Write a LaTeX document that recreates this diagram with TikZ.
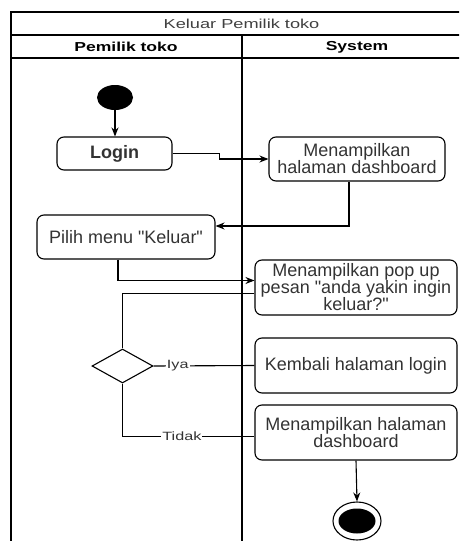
\documentclass[tikz,border=0pt]{standalone}
\usepackage{fontspec}
\setmainfont{Liberation Sans}[Ligatures=TeXOff]
\usepackage{xcolor}
\usetikzlibrary{shapes.geometric,arrows.meta}
\newcommand{\lebar}[1]{\scalebox{1.35}[1]{#1}}

\begin{document}
\begin{tikzpicture}[x=1pt,y=-1pt,
  aktivitas/.style={draw,line width=1.1pt,rounded corners=7pt,align=center,
    text=black!80,font=\fontsize{18}{17}\selectfont,inner sep=0pt},
  alur/.style={line width=1.1pt,-{Stealth[length=9pt,width=7pt]}},
  garis/.style={line width=1.1pt},
  ket/.style={fill=white,inner sep=1pt,text=black!80,font=\fontsize{12}{12}\selectfont}]
\useasboundingbox (0,0) rectangle (459,541);
\clip (0,0) rectangle (459,541);

% swimlane
\draw[garis] (11,12) rectangle (472,560);
\draw[garis] (11,35) -- (472,35);
\draw[garis] (11,58) -- (472,58);
\draw[garis] (242,35) -- (242,560);
\node[text=black!75,font=\fontsize{13}{13}\selectfont] (judul) at (241.5,24) {\scalebox{1.4}[1]{Keluar Pemilik toko}};
\node[font=\fontsize{13}{13}\selectfont\bfseries] (lanepemilik) at (126,47) {\lebar{Pemilik toko}};
\node[font=\fontsize{13}{13}\selectfont\bfseries] (lanesystem) at (357,47) {\lebar{System}};

% aktivitas
\node[ellipse,fill=black,minimum width=36pt,minimum height=25pt,inner sep=0pt] (mulai) at (115,97.5) {};
\node[aktivitas,minimum width=115pt,minimum height=33pt] (login) at (114.5,153.5) {\textbf{Login}};
\node[aktivitas,minimum width=176pt,minimum height=44pt] (dash1) at (357,159) {Menampilkan\\halaman dashboard};
\node[aktivitas,minimum width=178pt,minimum height=44pt] (pilih) at (126,237) {Pilih menu "Keluar"};
\node[aktivitas,minimum width=202pt,minimum height=55pt] (popup) at (356,287.5) {Menampilkan pop up\\pesan "anda yakin ingin\\keluar?"};
\node[diamond,draw,line width=1.1pt,shape aspect=1.8,minimum width=61pt,minimum height=34pt,inner sep=0pt] (keputusan) at (122.5,366) {};
\node[aktivitas,minimum width=202pt,minimum height=55pt] (kembali) at (356,365.5) {Kembali halaman login};
\node[aktivitas,minimum width=202pt,minimum height=55pt] (dash2) at (356,432.5) {Menampilkan halaman\\dashboard};
\node[ellipse,draw,line width=1.1pt,minimum width=48pt,minimum height=38pt,inner sep=0pt] (selesai) at (357,521) {};
\node[ellipse,fill=black,minimum width=37pt,minimum height=25pt,inner sep=0pt] (selesaiisi) at (selesai) {};

% alur
\draw[alur] (mulai.south) -- (mulai.south |- login.north);
\draw[alur] (login.east) -- ++(47,0) -- ++(0,4) |- (dash1.west);
\draw[alur] ([xshift=-8pt]dash1.south) |- ([yshift=11pt]pilih.east);
\draw[alur] ([xshift=-8pt]pilih.south) |- ([yshift=7pt]popup.west);
\draw[garis] ([yshift=-6pt]popup.west) -| (keputusan.north);
\draw[garis] (keputusan.east) -- node[ket,pos=0.24] {\lebar{Iya}} (kembali.west);
\draw[garis] (keputusan.south) |- node[ket,pos=0.725] {\lebar{Tidak}} ([yshift=-4pt]dash2.west);
\draw[alur] (dash2.south) -- (selesai.north);
\end{tikzpicture}
\end{document}
